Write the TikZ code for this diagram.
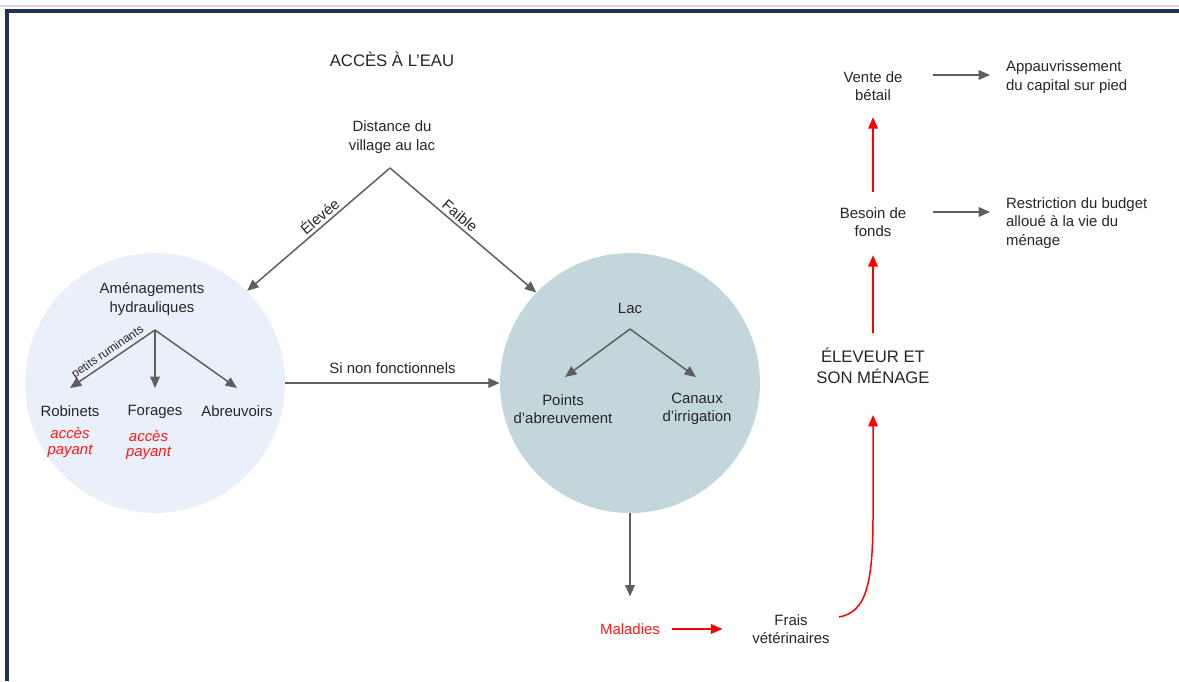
\documentclass[tikz,border=0pt]{standalone}
\usepackage{fontspec}
\setmainfont{Liberation Sans}
\usetikzlibrary{arrows.meta, positioning}
\definecolor{navy}{HTML}{1F3251}
\definecolor{arrgray}{HTML}{5F5F5F}
\definecolor{lightblue}{HTML}{E9F0FA}
\definecolor{lakeblue}{HTML}{C3D6DB}

\begin{document}
\begin{tikzpicture}[x=0.02cm, y=-0.02cm,
    font=\fontsize{8.5}{10.4}\selectfont,
    txt/.style={align=center, inner sep=1pt, text=black!85},
    big/.style={txt, font=\fontsize{9.5}{11.6}\selectfont},
    redtxt/.style={txt, text=red!90, font=\fontsize{8.5}{8.8}\selectfont\itshape},
    arr/.style={draw=arrgray, line width=0.85pt, -{Triangle[length=6.5pt,width=5.5pt]}},
    redarr/.style={arr, draw=red},
    zone/.style={circle, minimum size=5.2cm, inner sep=0pt},
    edgelbl/.style={sloped, above, inner sep=1.5pt, text=black!85}]
    \useasboundingbox (0,0) rectangle (1179,681);
    % Frame
    \draw[black!15, line width=0.6pt] (0,6) -- (1179,6);
    \draw[navy, line width=1.8pt] (7,681) -- (7,11) -- (1179,11);
    % Water zones
    \node[zone, fill=lightblue] (amenZone) at (155,383) {};
    \node[zone, fill=lakeblue] (lacZone) at (630,383) {};
    % Access to water
    \node[big] (title) at (392,59) {ACCÈS À L’EAU};
    \node[txt] (dist) at (392,137) {Distance du\\village au lac};
    \coordinate (distTip) at (390,168);
    \draw[arr] (distTip) -- node[edgelbl, pos=0.45] {Élevée} (amenZone.45);
    \draw[arr] (distTip) -- node[edgelbl, pos=0.44] {Faible} (lacZone.136);
    % Hydraulic works
    \node[txt] (amen) at (152,299) {Aménagements\\hydrauliques};
    \coordinate (amenTip) at (155,330);
    \foreach \n/\x/\lbl in {robin/70/Robinets, forage/155/Forages, abreuv/237/Abreuvoirs} {
      \coordinate (\n In) at (\x,388);
      \node[txt, below=0.31cm of \n In] (\n) {\lbl};
    }
    \node[redtxt, below=0.14cm of robin] (payRobin) {accès\\payant};
    \node[redtxt, below=0.14cm of forage, xshift=-0.13cm] (payForage) {accès\\payant};
    \draw[arr] (amenTip) -- node[edgelbl, font=\fontsize{6.8}{8}\selectfont, inner sep=1pt] {petits ruminants} (robinIn);
    \draw[arr] (amenTip) -- (forageIn);
    \draw[arr] (amenTip) -- (abreuvIn);
    % Lake
    \node[txt] (lac) at (630,308) {Lac};
    \coordinate (lacTip) at (630,329);
    \coordinate (pointsIn) at (565,377);
    \coordinate (canauxIn) at (696,377);
    \node[txt] (points) at (563,409) {Points\\d’abreuvement};
    \node[txt] (canaux) at (697,409) {Canaux\\d’irrigation};
    \draw[arr] (lacTip) -- (pointsIn);
    \draw[arr] (lacTip) -- (canauxIn);
    \draw[arr] (amenZone.east) -- node[txt, above=4pt] {Si non fonctionnels} (lacZone.west);
    % Diseases and costs
    \node[txt, text=red!90] (malad) at (630,629) {Maladies};
    \node[txt] (frais) at (791,629) {Frais\\vétérinaires};
    \draw[arr, shorten >=0.5cm] (lacZone.south) -- (malad.north);
    \draw[redarr, shorten <=0.2cm, shorten >=0.56cm] (malad.east) -- (frais.west);
    % Household
    \node[big] (eleveur) at (873,366) {ÉLEVEUR ET\\SON MÉNAGE};
    \node[txt] (besoin) at (873,222) {Besoin de\\fonds};
    \node[txt] (vente) at (873,86) {Vente de\\bétail};
    \node[txt, anchor=west, align=left] (restr) at (1004,223) {Restriction du budget\\alloué à la vie du\\ménage};
    \node[txt, anchor=west, align=left] (appauv) at (1004,77) {Appauvrissement\\du capital sur pied};
    \coordinate (fraisOut) at (839,617);
    \coordinate (eleveurIn) at (873,415);
    \draw[redarr] (fraisOut) .. controls (866,612) and (873,585) .. (873,515) -- (eleveurIn);
    \draw[redarr, shorten <=0.26cm, shorten >=0.33cm] (eleveur.north) -- (besoin.south);
    \draw[redarr, shorten <=0.27cm, shorten >=0.29cm] (besoin.north) -- (vente.south);
    \draw[arr, shorten <=0.5cm, shorten >=0.28cm] ([yshift=0.2cm]besoin.east) -- ([yshift=0.2cm]besoin.east -| restr.west);
    \draw[arr, shorten <=0.56cm, shorten >=0.28cm] ([yshift=0.22cm]vente.east) -- ([yshift=0.22cm]vente.east -| appauv.west);
\end{tikzpicture}
\end{document}
